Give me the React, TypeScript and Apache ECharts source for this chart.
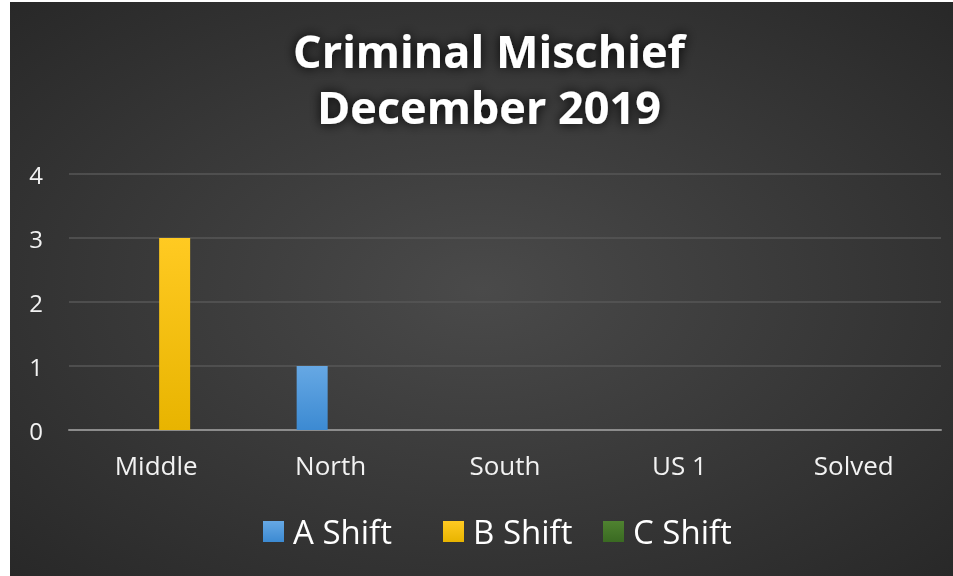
import React, { useEffect, useRef } from "react";
import * as echarts from "echarts";

const titleLines = ["Criminal Mischief", "December 2019"];
const categories = ["Middle", "North", "South", "US 1", "Solved"];
const seriesNames = ["A Shift", "B Shift", "C Shift"];
const aShift = [0, 1, 0, 0, 0];
const bShift = [3, 0, 0, 0, 0];
const cShift = [0, 0, 0, 0, 0];
const spacer = [null, null, null, null, null];
const yTicks = { min: 0, max: 4, interval: 1 };

const grad = (top: string, bottom: string) =>
  new echarts.graphic.LinearGradient(0, 0, 0, 1, [
    { offset: 0, color: top },
    { offset: 1, color: bottom },
  ]);

export default function App() {
  const ref = useRef<HTMLDivElement>(null);
  useEffect(() => {
    if (!ref.current) return;
    const chart = echarts.init(ref.current, undefined, { renderer: "svg" });
    const font = "'Open Sans', sans-serif";
    const colors = [
      grad("#66a8e4", "#3c8ad2"),
      grad("#ffca22", "#e8b400"),
      grad("#4f8230", "#3a6a22"),
    ];
    const values = [aShift, bShift, cShift];
    const legendLefts = [253, 433, 593];
    chart.setOption({
      animation: false,
      backgroundColor: new echarts.graphic.RadialGradient(0.5, 0.5, 0.75, [
        { offset: 0, color: "#4a4a4a" },
        { offset: 1, color: "#262626" },
      ]),
      title: {
        text: titleLines.join("\n"),
        left: 474,
        textAlign: "center",
        top: 15,
        padding: 5,
        textStyle: {
          color: "#ffffff",
          fontFamily: font,
          fontWeight: "bold",
          fontSize: 45,
          lineHeight: 56,
          textShadowColor: "rgba(0,0,0,0.95)",
          textShadowBlur: 12,
        },
      },
      legend: seriesNames.map((name, i) => ({
        data: [name],
        left: legendLefts[i],
        top: 513,
        padding: 0,
        itemWidth: 21,
        itemHeight: 21,
        icon: "rect",
        textStyle: { color: "#ffffff", fontFamily: font, fontSize: 33, padding: [0, 0, 0, 4] },
      })),
      grid: { left: 59, right: 12, top: 172, bottom: 146, containLabel: false },
      xAxis: {
        type: "category",
        data: categories,
        axisLine: { lineStyle: { color: "#8c8c8c", width: 2 } },
        axisTick: { show: false },
        axisLabel: { color: "#f2f2f2", fontFamily: font, fontSize: 26, margin: 22 },
      },
      yAxis: {
        type: "value",
        min: yTicks.min,
        max: yTicks.max,
        interval: yTicks.interval,
        axisLine: { show: false },
        axisTick: { show: false },
        splitLine: { lineStyle: { color: "#575757", width: 1.5 } },
        axisLabel: { color: "#f2f2f2", fontFamily: font, fontSize: 24, margin: 26 },
      },
      series: [
        {
          name: "",
          type: "bar",
          data: spacer,
          barWidth: 31,
          barGap: "19%",
          silent: true,
        },
        ...seriesNames.map((name, i) => ({
          name,
          type: "bar",
          data: values[i],
          barWidth: 31,
          barGap: "19%",
          itemStyle: { color: colors[i] },
        })),
      ],
    });
    return () => chart.dispose();
  }, []);
  return (
    <div
      ref={ref}
      style={{ position: "fixed", left: 10, top: 2, width: 943, height: 574 }}
    />
  );
}
